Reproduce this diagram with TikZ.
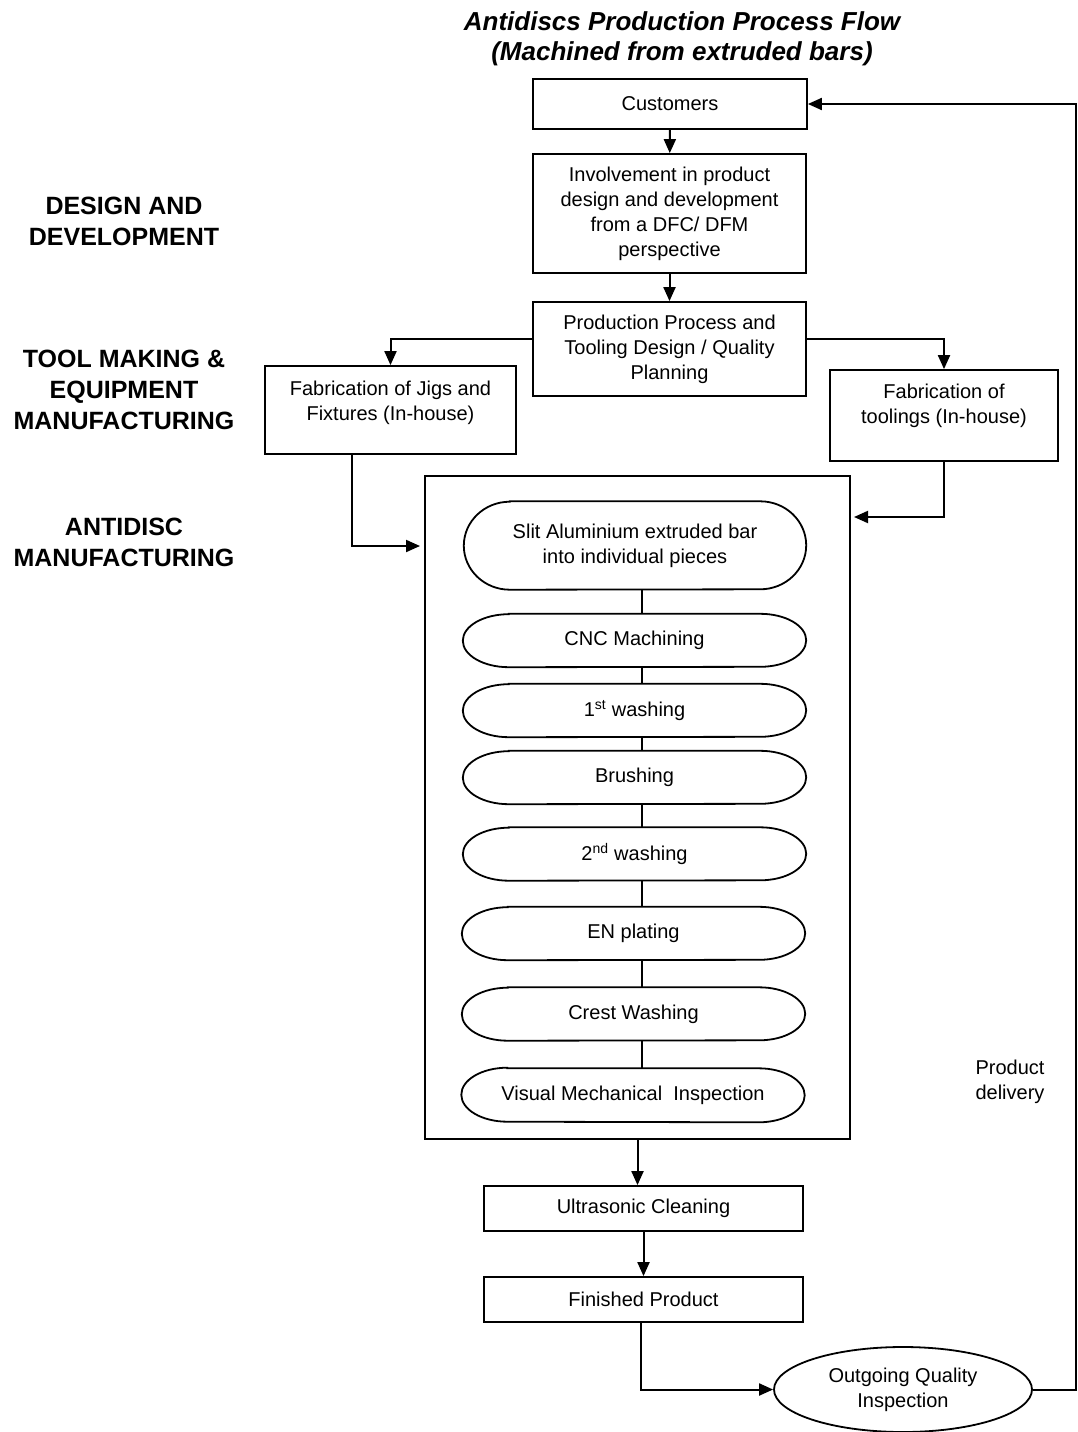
\documentclass[tikz,border=0pt]{standalone}
\usepackage{fontspec}
\setmainfont{Liberation Sans}
\usetikzlibrary{arrows.meta,shapes.geometric,calc}
\newcommand\bodyfont{\fontsize{20}{25}\selectfont}
\newcommand\headfont{\fontsize{25}{31}\selectfont\bfseries}
\newcommand\titlefont{\fontsize{26}{30}\selectfont\bfseries\itshape}
\begin{document}
\begin{tikzpicture}[x=1pt,y=-1pt,
  every node/.style={font=\bodyfont, inner sep=0pt, align=center},
  box/.style={draw, line width=1.8pt},
  pill/.style={minimum width=343pt, minimum height=53pt},
  head/.style={font=\headfont},
  conn/.style={line width=2pt},
  arr/.style={conn, -{Triangle[length=14pt,width=12pt]}}]
\useasboundingbox (0,0) rectangle (1077,1432);

% title
\node[font=\titlefont] (title) at (682,38.5) {Antidiscs Production Process Flow\\(Machined from extruded bars)};

% stage headings
\node[head] (hdesign) at (124,221.5) {DESIGN AND\\DEVELOPMENT};
\node[head] (htool) at (124,390) {TOOL MAKING \&\\EQUIPMENT\\MANUFACTURING};
\node[head] (hanti) at (124,542.5) {ANTIDISC\\MANUFACTURING};

% design and planning boxes
\node[box, minimum width=274pt, minimum height=50pt] (cust) at (670,104) {Customers};
\node[box, minimum width=273pt, minimum height=119pt] (inv) at (669.5,213.5)
  {Involvement in product\\design and development\\from a DFC/ DFM\\perspective};
\node[box, minimum width=273pt, minimum height=94pt] (prod) at (669.5,349)
  {Production Process and\\Tooling Design / Quality\\Planning};
\node[box, minimum width=251pt, minimum height=88pt,
  label={[yshift=7pt]center:Fabrication of Jigs and\\Fixtures (In-house)}] (jigs) at (390.5,410) {};
\node[box, minimum width=228pt, minimum height=91pt,
  label={[yshift=9.5pt]center:Fabrication of\\toolings (In-house)}] (tool) at (944,415.5) {};

% manufacturing frame
\node[draw, line width=1.6pt, minimum width=425pt, minimum height=663pt] (mfg) at (637.5,807.5) {};

% process steps
\node[minimum width=342pt, minimum height=88pt] (slit) at (635,545.5) {Slit Aluminium extruded bar\\into individual pieces};
\node[pill] (cnc) at (634.5,640.5) {CNC Machining};
\node[pill] (washa) at (634.5,710.5) {1\textsuperscript{st} washing};
\node[pill] (brush) at (634.5,777.5) {Brushing};
\node[pill] (washb) at (634.5,854) {2\textsuperscript{nd} washing};
\node[pill] (enp) at (633.5,933.5) {EN plating};
\node[pill] (crest) at (633.5,1014) {Crest Washing};
\node[pill] (visual) at (633,1095) {Visual Mechanical\ \ Inspection};

% pill outlines with half-elliptic ends
\foreach \n/\h in {slit/44, cnc/26.5, washa/26.5, brush/26.5, washb/26.5, enp/26.5, crest/26.5, visual/27}{
  \draw[line width=1.8pt] ($(\n.north west)+(46,0)$) -- ($(\n.north east)+(-46,0)$)
    arc[start angle=90, end angle=-90, x radius=46pt, y radius=\h pt]
    -- ($(\n.south west)+(46,0)$)
    arc[start angle=270, end angle=90, x radius=46pt, y radius=\h pt] -- cycle;
}

% spine joining the steps
\coordinate (spine) at (641.5,0);
\foreach \a/\b in {slit/cnc, cnc/washa, washa/brush, brush/washb, washb/enp, enp/crest, crest/visual}{
  \draw[conn] (\a.south -| spine) -- (\b.north -| spine);
}

% finishing
\node[box, minimum width=319pt, minimum height=45pt] (ultra) at (643.5,1208.5) {Ultrasonic Cleaning};
\node[box, minimum width=319pt, minimum height=45pt] (fin) at (643.5,1299.5) {Finished Product};
\node[draw, line width=1.8pt, ellipse, minimum width=258pt, minimum height=85pt] (out) at (903,1389.5) {Outgoing Quality\\Inspection};
\node (deliv) at (1010,1082) {Product\\delivery};

% connectors
\draw[arr] (cust) -- (inv);
\draw[arr] (inv) -- (prod);
\draw[arr] ([yshift=10pt]prod.west) -| (jigs.north);
\draw[arr] ([yshift=10pt]prod.east) -| (tool.north);
\coordinate (inL) at (420,546);
\coordinate (inR) at (854,517);
\draw[arr] ([xshift=-38.5pt]jigs.south) |- (inL);
\draw[arr] (tool.south) |- (inR);
\draw[arr] (mfg.south) -- (mfg.south |- ultra.north);
\draw[arr] (ultra.south -| fin.north) -- (fin.north);
\draw[arr] ([xshift=-3pt]fin.south) |- (out.west);
\coordinate (rail) at (1076,0);
\draw[arr] (out.east) -- (out.east -| rail) -- (cust.east -| rail) -- (cust.east);
\end{tikzpicture}
\end{document}
